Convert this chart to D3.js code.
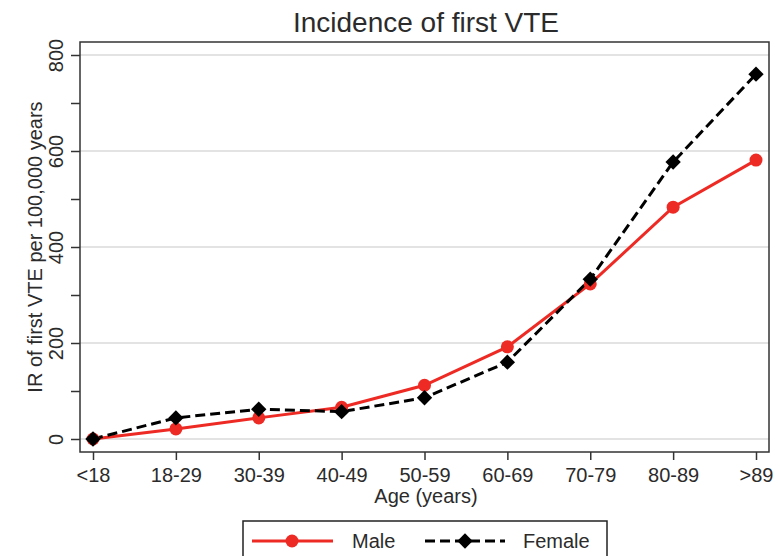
<!DOCTYPE html>
<html lang="en">
<head>
  <meta charset="UTF-8" />
  <title>Incidence of first VTE</title>
  <style>
    body { margin: 0; background: #fff; }
    text { font-family: "Liberation Sans", Arial, sans-serif; fill: #2b2b2b; }
    .grid-line { stroke: #e3e3e3; stroke-width: 2px; }
    .frame { fill: none; stroke: #333; stroke-width: 1.5px; }
    .male-line { fill: none; stroke: #ee2a24; stroke-width: 3px; }
    .female-line { fill: none; stroke: #000; stroke-width: 3px; stroke-dasharray: 10, 5; }
    .axis path { display: none; }
    .axis line { stroke: #333; stroke-width: 1.5px; }
    .axis text { font-size: 20px; fill: #2b2b2b; font-family: "Liberation Sans", Arial, sans-serif; }
  </style>
</head>
<body>
  <script src="https://cdnjs.cloudflare.com/ajax/libs/d3/7.8.5/d3.min.js"></script>
  <script>
    var ageGroups = ["<18", "18-29", "30-39", "40-49", "50-59", "60-69", "70-79", "80-89", ">89"];
    var maleIR = [0, 21, 44, 66, 112, 192, 323, 483, 581];
    var femaleIR = [0, 44, 62, 57, 86, 160, 333, 577, 760];
    var yTicks = [0, 200, 400, 600, 800];
    var yMinorTicks = [100, 300, 500, 700];

    var w = 780;
    var h = 556;
    var frame = { left: 80, top: 42, right: 769, bottom: 452 };

    var svg = d3.select("body").append("svg")
      .attr("width", w)
      .attr("height", h);

    var xScale = d3.scalePoint()
      .domain(ageGroups)
      .range([93, 756]);

    var yScale = d3.scaleLinear()
      .domain([0, 800])
      .range([439, 55]);

    // gridlines
    svg.selectAll(".grid-line")
      .data(yTicks)
      .enter()
      .append("line")
      .attr("class", "grid-line")
      .attr("x1", frame.left)
      .attr("x2", frame.right)
      .attr("y1", function(d) { return yScale(d); })
      .attr("y2", function(d) { return yScale(d); });

    svg.append("rect")
      .attr("class", "frame")
      .attr("x", frame.left)
      .attr("y", frame.top)
      .attr("width", frame.right - frame.left)
      .attr("height", frame.bottom - frame.top);

    // x axis
    var xAxis = d3.axisBottom(xScale).tickSize(8).tickPadding(8);
    svg.append("g")
      .attr("class", "axis")
      .attr("transform", "translate(0," + frame.bottom + ")")
      .call(xAxis);

    // y axis, labels rotated like the original
    var yAxis = d3.axisLeft(yScale).tickValues(yTicks).tickSize(9).tickFormat(d3.format("d"));
    var yg = svg.append("g")
      .attr("class", "axis")
      .attr("transform", "translate(" + frame.left + ",0)")
      .call(yAxis);
    yg.selectAll("text")
      .attr("x", 0)
      .attr("y", 0)
      .attr("dy", 0)
      .attr("transform", "translate(-17,0) rotate(-90)")
      .attr("text-anchor", "middle");

    svg.append("g")
      .attr("class", "axis")
      .attr("transform", "translate(" + frame.left + ",0)")
      .call(d3.axisLeft(yScale).tickValues(yMinorTicks).tickSize(9).tickFormat(""));

    // titles
    svg.append("text")
      .attr("x", 426)
      .attr("y", 32)
      .attr("text-anchor", "middle")
      .style("font-size", "28px")
      .text("Incidence of first VTE");

    svg.append("text")
      .attr("x", 426)
      .attr("y", 503)
      .attr("text-anchor", "middle")
      .style("font-size", "20px")
      .text("Age (years)");

    svg.append("text")
      .attr("transform", "translate(42," + yScale(400) + ") rotate(-90)")
      .attr("text-anchor", "middle")
      .style("font-size", "20px")
      .text("IR of first VTE per 100,000 years");

    // lines
    var line = d3.line()
      .x(function(d, i) { return xScale(ageGroups[i]); })
      .y(function(d) { return yScale(d); });

    svg.append("path")
      .datum(maleIR)
      .attr("class", "male-line")
      .attr("d", line);

    svg.append("path")
      .datum(femaleIR)
      .attr("class", "female-line")
      .attr("d", line);

    svg.selectAll(".male-point")
      .data(maleIR)
      .enter()
      .append("circle")
      .attr("class", "male-point")
      .attr("cx", function(d, i) { return xScale(ageGroups[i]); })
      .attr("cy", function(d) { return yScale(d); })
      .attr("r", 6.5)
      .attr("fill", "#ee2a24");

    var diamond = d3.symbol().type(d3.symbolDiamond2).size(150);
    svg.selectAll(".female-point")
      .data(femaleIR)
      .enter()
      .append("path")
      .attr("class", "female-point")
      .attr("d", diamond)
      .attr("transform", function(d, i) { return "translate(" + xScale(ageGroups[i]) + "," + yScale(d) + ")"; })
      .attr("fill", "#000");

    // legend
    svg.append("rect")
      .attr("x", 243)
      .attr("y", 521)
      .attr("width", 364)
      .attr("height", 50)
      .attr("fill", "#fff")
      .attr("stroke", "#222")
      .attr("stroke-width", 1.5);

    svg.append("line")
      .attr("class", "male-line")
      .attr("x1", 252).attr("x2", 333)
      .attr("y1", 541).attr("y2", 541);
    svg.append("circle")
      .attr("cx", 292).attr("cy", 541).attr("r", 6.5)
      .attr("fill", "#ee2a24");
    svg.append("text")
      .attr("x", 352).attr("y", 548)
      .style("font-size", "20px")
      .text("Male");

    svg.append("line")
      .attr("class", "female-line")
      .attr("x1", 425).attr("x2", 505)
      .attr("y1", 541).attr("y2", 541);
    svg.append("path")
      .attr("d", diamond)
      .attr("transform", "translate(465,541)")
      .attr("fill", "#000");
    svg.append("text")
      .attr("x", 523).attr("y", 548)
      .style("font-size", "20px")
      .text("Female");
  </script>
</body>
</html>
